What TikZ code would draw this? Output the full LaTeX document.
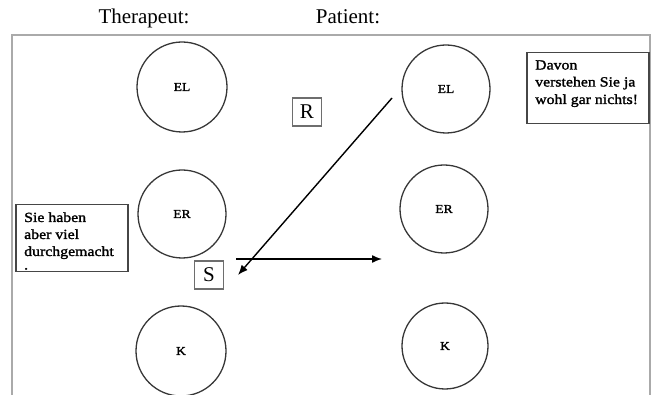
\documentclass[tikz,border=0pt]{standalone}
\usepackage{fontspec}
\setmainfont{Liberation Serif}
\newfontfamily\notefont[FakeStretch=1.13,FakeBold=1.6]{Liberation Serif}
\usetikzlibrary{arrows.meta}
\definecolor{framegray}{RGB}{170,170,170}
\definecolor{inkgray}{RGB}{55,55,55}
\definecolor{notegray}{RGB}{70,70,70}
\definecolor{lettergray}{RGB}{110,110,110}
\begin{document}
\begin{tikzpicture}[x=1pt,y=-1pt,
  heading/.style={anchor=base, inner sep=0pt, font=\fontsize{21}{21}\selectfont},
  ego/.style={circle, draw=inkgray, line width=1.3pt, minimum size=#1, inner sep=0pt,
    font=\notefont\fontsize{12}{12}\selectfont},
  ego/.default=90pt,
  notebox/.style={draw=notegray, line width=1.5pt, anchor=north west, inner sep=0pt},
  noteline/.style={anchor=base west, inner sep=0pt, font=\notefont\fontsize{14}{14}\selectfont},
  letterbox/.style={draw=lettergray, line width=1.1pt, minimum width=29pt, minimum height=28pt,
    inner sep=0pt, font=\fontsize{21}{21}\selectfont},
  transact/.style={line width=1.4pt, -{Latex[length=10pt,width=8pt]}}
]
\useasboundingbox (0,0) rectangle (651,395);

% column headings
\node[heading] (thead) at (144,24) {Therapeut:};
\node[heading] (phead) at (348,24) {Patient:};

% open frame around the diagram
\draw[framegray, line width=2.5pt] (12,396) -- (12,35) -- (650,35) -- (650,396);

% ego states of the therapist
\node[ego] (tEL) at (182,87) {EL};
\node[ego=88pt] (tER) at (182,214) {ER};
\node[ego] (tK) at (181,351) {K};

% ego states of the patient
\node[ego=88pt] (pEL) at (446,89) {EL};
\node[ego=88pt] (pER) at (444,209) {ER};
\node[ego=86pt] (pK) at (445,346) {K};

% stimulus / response labels
\node[letterbox] (R) at (307,112) {R};
\node[letterbox] (S) at (209,275) {S};

% transactions
\coordinate (rTail) at (392,98);
\coordinate (rTip) at (238,275);
\coordinate (sTail) at (236,259);
\coordinate (sTip) at (382,259);
\draw[transact] (rTail) -- (rTip);
\draw[transact] (sTail) -- (sTip);

% therapist's remark
\node[notebox, minimum width=112pt, minimum height=67pt] (tnote) at (15,204) {};
\node[noteline] (tn1) at (24,222) {Sie haben};
\node[noteline] (tn2) at (24,239) {aber viel};
\node[noteline] (tn3) at (24,256) {durchgemacht};
\node[noteline] (tn4) at (24,269.5) {.};

% patient's remark
\node[notebox, minimum width=122pt, minimum height=71pt] (pnote) at (526,52) {};
\node[noteline] (pn1) at (535,69.5) {Davon};
\node[noteline] (pn2) at (535,86.5) {verstehen Sie ja};
\node[noteline] (pn3) at (535,104) {wohl gar nichts!};
\end{tikzpicture}
\end{document}
